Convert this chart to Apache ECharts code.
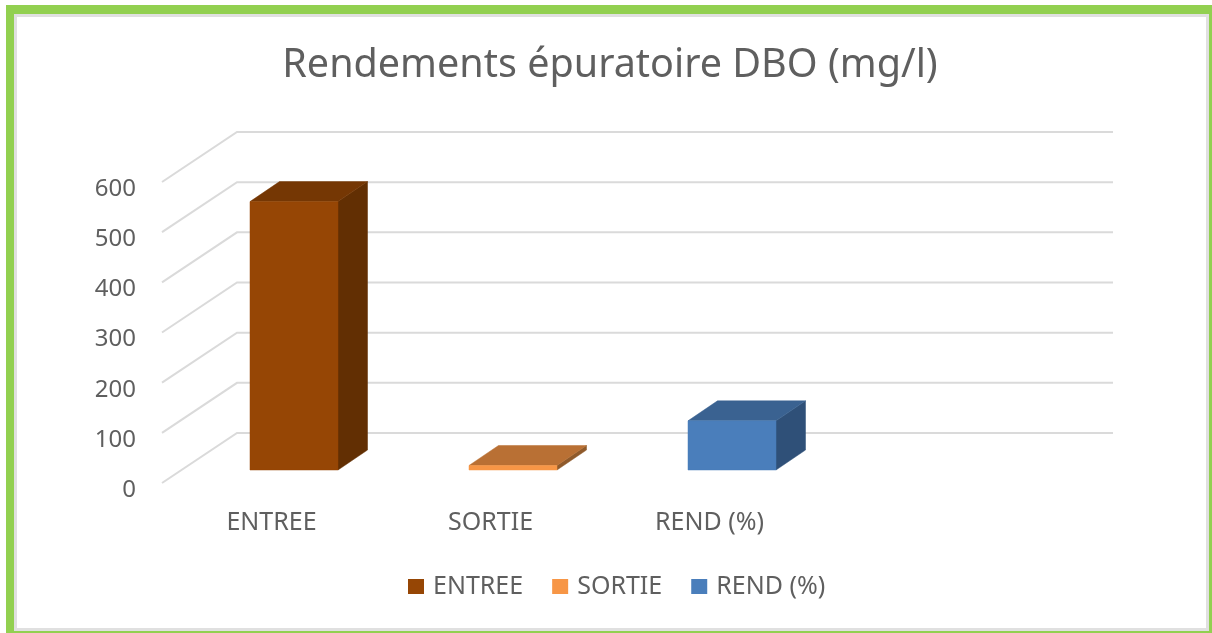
<!DOCTYPE html>
<html><head><meta charset="utf-8">
<style>html,body{margin:0;padding:0;background:#fff}#c{width:1212px;height:633px}</style>
<script src="https://cdn.jsdelivr.net/npm/echarts@6/dist/echarts.min.js"></script>
</head><body><div id="c"></div>
<script>
var titleText = 'Rendements épuratoire DBO (mg/l)';
var categories = ['ENTREE', 'SORTIE', 'REND (%)', ''];
var seriesNames = ['ENTREE', 'SORTIE', 'REND (%)'];
var entreeValues = [535, null, null, null];
var sortieValues = [null, 9, null, null];
var rendValues = [null, null, 98, null];
var yTicks = [0, 100, 200, 300, 400, 500, 600];

var FONT = '"Noto Sans", sans-serif', TXT = '#5F5F5F';
var WALL_DX = 75, WALL_DY = -50;
var BAR_DX = 22.5, BAR_DY = -13, BAR_W = 88, DEPTH_DX = 29.5, DEPTH_DY = -20;

function poly(pts, fill) {
  return { type: 'polygon', shape: { points: pts }, style: { fill: fill, stroke: fill, lineWidth: 0.5 } };
}
function barRender(front, top, side) {
  return function (params, api) {
    var v = api.value(1);
    if (v == null || isNaN(v)) return;
    var base = api.coord([api.value(0), 0]);
    var head = api.coord([api.value(0), v]);
    var l = base[0] + BAR_DX - BAR_W / 2, r = l + BAR_W;
    var b = base[1] + BAR_DY, t = head[1] + BAR_DY;
    return { type: 'group', children: [
      poly([[r, b], [r + DEPTH_DX, b + DEPTH_DY], [r + DEPTH_DX, t + DEPTH_DY], [r, t]], side),
      poly([[l, t], [r, t], [r + DEPTH_DX, t + DEPTH_DY], [l + DEPTH_DX, t + DEPTH_DY]], top),
      poly([[l, b], [r, b], [r, t], [l, t]], front)
    ] };
  };
}
function barSeries(name, values, front, top, side) {
  return {
    type: 'custom', name: name, z: 3, coordinateSystem: 'cartesian2d',
    itemStyle: { color: front }, renderItem: barRender(front, top, side),
    encode: { x: 0, y: 1 },
    data: values.map(function (v, i) { return [i, v]; }).filter(function (d) { return d[1] != null; })
  };
}
var wallSeries = {
  type: 'custom', name: 'walls', silent: true, z: 1, coordinateSystem: 'cartesian2d',
  encode: { x: 0, y: 1 },
  renderItem: function (params, api) {
    var a = api.coord([0, api.value(0)]);
    var cs = params.coordSys, x0 = cs.x, x1 = cs.x + cs.width, y = a[1];
    var st = { stroke: '#DADADA', lineWidth: 2, fill: 'none' };
    return { type: 'polyline', shape: { points: [[x0, y], [x0 + WALL_DX, y + WALL_DY], [x1 + WALL_DX, y + WALL_DY]] }, style: st };
  },
  data: yTicks.map(function (v) { return [v]; })
};
function band(x, y, w, h, c, z) {
  return { type: 'rect', z: z, silent: true, shape: { x: x, y: y, width: w, height: h }, style: { fill: c } };
}
var GREEN = '#92D050', GRAY = '#E0E0E0';

var chart = echarts.init(document.getElementById('c'), null, { renderer: 'canvas' });
chart.setOption({
  animation: false,
  backgroundColor: '#fff',
  title: {
    text: titleText, left: 605, top: 41, textAlign: 'center',
    textStyle: { fontFamily: FONT, fontSize: 39.5, fontWeight: 'normal', color: TXT }
  },
  grid: { left: 162, top: 182, width: 876, height: 301, containLabel: false },
  xAxis: {
    type: 'category', data: categories, boundaryGap: true,
    axisLine: { show: false }, axisTick: { show: false }, splitLine: { show: false },
    axisLabel: { margin: 27, fontFamily: FONT, fontSize: 25, color: TXT, interval: 0 }
  },
  yAxis: {
    type: 'value', min: 0, max: 600, interval: 100,
    axisLine: { show: false }, axisTick: { show: false }, splitLine: { show: false },
    axisLabel: { margin: 26, fontFamily: FONT, fontSize: 24, color: TXT, verticalAlign: 'top', lineHeight: 14 }
  },
  legend: {
    data: seriesNames, left: 403, top: 569, itemWidth: 16, itemHeight: 15, itemGap: 29,
    icon: 'rect', textStyle: { fontFamily: FONT, fontSize: 25, color: TXT, padding: [0, 0, 0, 4] }
  },
  graphic: [
    band(14, 14, 3, 617, GRAY, 100), band(14, 14, 1195, 3, GRAY, 100),
    band(1206, 14, 3, 617, GRAY, 100), band(14, 628, 1195, 3, GRAY, 100),
    band(6, 5, 8, 628, GREEN, 101), band(6, 5, 1206, 9, GREEN, 101),
    band(1209, 5, 3, 628, GREEN, 101), band(6, 631, 1206, 2, GREEN, 101)
  ],
  series: [
    wallSeries,
    barSeries(seriesNames[0], entreeValues, '#964605', '#753704', '#622F03'),
    barSeries(seriesNames[1], sortieValues, '#F79646', '#B97034', '#8F5A2B'),
    barSeries(seriesNames[2], rendValues, '#4A7EBB', '#3A6291', '#2F5078')
  ]
});
</script></body></html>
